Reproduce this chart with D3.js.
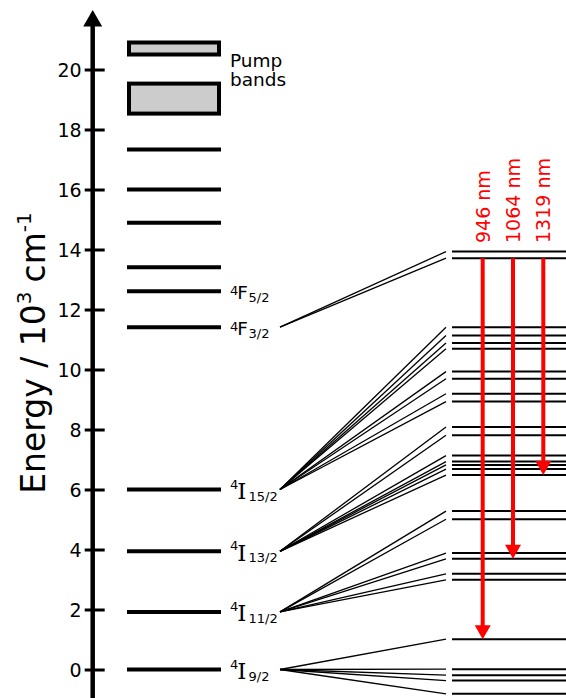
<!DOCTYPE html>
<html>
<head>
<meta charset="utf-8">
<script src="https://cdn.jsdelivr.net/npm/d3@7"></script>
<style>
  html, body { margin: 0; padding: 0; background: #fff; }
  svg { display: block; font-family: "DejaVu Sans", Verdana, sans-serif; }
</style>
</head>
<body>
<svg id="chart" width="566" height="698"></svg>
<script>
// Energy axis ticks (10^3 cm^-1)
const tickValues = [0, 2, 4, 6, 8, 10, 12, 14, 16, 18, 20];

// Free-ion style levels drawn as thick bars on the left (10^3 cm^-1)
const leftLevels = [0, 1.92, 3.94, 6.0, 11.41, 12.61, 13.41, 14.89, 16.0, 17.33];

// Pump absorption bands [low, high]
const pumpBands = [[18.53, 19.53], [20.5, 20.9]];

// Term labels: superscript multiplicity, letter, subscript J, and level energy
const termMult   = ["4", "4", "4", "4", "4", "4"];
const termLetter = ["I", "I", "I", "I", "F", "F"];
const termJ      = ["9/2", "11/2", "13/2", "15/2", "3/2", "5/2"];
const termEnergy = [0, 1.92, 3.94, 6.0, 11.41, 12.61];

// Stark-split sublevels shown on the right, one list per manifold (expanded view)
const starkSource = [0, 1.92, 3.94, 6.0, 11.41];
const stark9_2  = [1.01, 0.01, -0.19, -0.37, -0.81];
const stark11_2 = [5.28, 5.01, 3.88, 3.69, 3.19, 2.99];
const stark13_2 = [8.08, 7.81, 7.13, 6.93, 6.82, 6.68, 6.48];
const stark15_2 = [11.41, 11.13, 10.88, 10.69, 9.93, 9.69, 9.19, 8.93];
const stark3_2  = [13.93, 13.71];
const starkGroups = [stark9_2, stark11_2, stark13_2, stark15_2, stark3_2];

// Laser transitions: label, upper and lower sublevel energies
const laserLabels = ["946 nm", "1064 nm", "1319 nm"];
const laserFrom   = [13.71, 13.71, 13.71];
const laserTo     = [1.01, 3.69, 6.48];

const svg = d3.select("#chart");
const y = d3.scaleLinear().domain([0, 20]).range([669.5, 69.5]);
const axisX = 92.7;

// ---- axis ----
const axis = d3.axisLeft(y).tickValues(tickValues).tickSizeInner(8).tickSizeOuter(0).tickPadding(3)
  .tickFormat(d3.format("d"));
const gAxis = svg.append("g").attr("transform", `translate(${axisX},0)`).call(axis);
gAxis.select(".domain").remove();
gAxis.selectAll(".tick line").attr("x1", -8).attr("x2", 12).attr("stroke", "#000").attr("stroke-width", 3);
gAxis.selectAll(".tick text").attr("font-size", 19).attr("fill", "#000")
  .attr("font-family", "DejaVu Sans, sans-serif").attr("dy", "0.36em");

svg.append("line").attr("x1", axisX).attr("x2", axisX).attr("y1", 24).attr("y2", 698)
  .attr("stroke", "#000").attr("stroke-width", 4.5);
svg.append("path").attr("d", `M${axisX},10 L${axisX - 9.5},26.5 L${axisX + 9.5},26.5 Z`).attr("fill", "#000");

// axis title
const title = svg.append("text")
  .attr("transform", "translate(45,353) rotate(-90)")
  .attr("text-anchor", "middle").attr("font-size", 33).attr("fill", "#000");
title.append("tspan").text("Energy / 10");
title.append("tspan").attr("font-size", 20).attr("dy", -14).text("3");
title.append("tspan").attr("dy", 14).attr("dx", 9).text("cm");
title.append("tspan").attr("font-size", 20).attr("dy", -14).text("-1");

// ---- left levels ----
const barX0 = 127, barX1 = 221;
svg.append("g").selectAll("line").data(leftLevels).join("line")
  .attr("x1", barX0).attr("x2", barX1)
  .attr("y1", d => y(d)).attr("y2", d => y(d))
  .attr("stroke", "#000").attr("stroke-width", 4);

svg.append("g").selectAll("rect").data(pumpBands).join("rect")
  .attr("x", barX0 + 2).attr("width", barX1 - barX0 - 4)
  .attr("y", d => y(d[1])).attr("height", d => y(d[0]) - y(d[1]))
  .attr("fill", "#cccccc").attr("stroke", "#000").attr("stroke-width", 4);

const pump = svg.append("text").attr("x", 230).attr("font-size", 18.5).attr("fill", "#000");
pump.append("tspan").attr("x", 230).attr("y", 66.5).text("Pump");
pump.append("tspan").attr("x", 230).attr("y", 86).text("bands");

// ---- term labels ----
const labX = 230;
termEnergy.forEach((e, i) => {
  const ly = y(e);
  const isI = termLetter[i] === "I";
  const g = svg.append("g").attr("fill", "#000");
  g.append("text").attr("x", labX).attr("y", isI ? ly - 1 : ly + 4)
    .attr("font-size", 13).text(termMult[i]);
  g.append("text").attr("x", labX + 7.3).attr("y", isI ? ly + 9.5 : ly + 7.8)
    .attr("font-family", isI ? "DejaVu Serif, serif" : "DejaVu Sans, sans-serif")
    .attr("font-size", isI ? 23 : 18.5).text(termLetter[i]);
  g.append("text").attr("x", labX + 18.5).attr("y", ly + 11)
    .attr("font-size", 13).text(termJ[i]);
});

// ---- connectors and Stark sublevels ----
const connX0 = 280, connX1 = 446, subX0 = 452, subX1 = 566;
starkGroups.forEach((grp, gi) => {
  const src = starkSource[gi];
  svg.append("g").selectAll("line").data(grp).join("line")
    .attr("x1", connX0).attr("y1", y(src)).attr("x2", connX1).attr("y2", d => y(d))
    .attr("stroke", "#000").attr("stroke-width", 1.3);
  svg.append("g").selectAll("line").data(grp).join("line")
    .attr("x1", subX0).attr("x2", subX1).attr("y1", d => y(d)).attr("y2", d => y(d))
    .attr("stroke", "#000").attr("stroke-width", 2);
});

// ---- laser transitions ----
const arrowX = d3.scalePoint().domain(laserLabels).range([482.7, 543.3]);
laserLabels.forEach((lab, i) => {
  const x = arrowX(lab);
  const y0 = y(laserFrom[i]), y1 = y(laserTo[i]);
  const head = 14, half = 8;
  svg.append("line").attr("x1", x).attr("x2", x).attr("y1", y0).attr("y2", y1 - head + 1)
    .attr("stroke", "#ff0000").attr("stroke-width", 4);
  svg.append("path").attr("d", `M${x},${y1} L${x - half},${y1 - head} L${x + half},${y1 - head} Z`)
    .attr("fill", "#ff0000");
  svg.append("text").attr("transform", `translate(${x + 7},243) rotate(-90)`)
    .attr("font-size", 19).attr("fill", "#ff0000").text(lab);
});
</script>
</body>
</html>
